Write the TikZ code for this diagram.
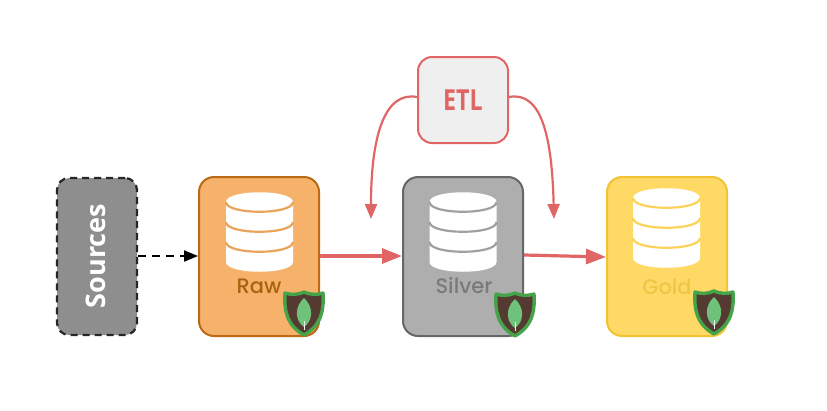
\documentclass[tikz,border=0pt]{standalone}
\usepackage{fontspec}
\setmainfont{Poppins Medium}
\newfontfamily\srcfont{Open Sans}
\usetikzlibrary{arrows.meta}
\definecolor{cRaw}{HTML}{F6B26B}
\definecolor{cRawD}{HTML}{B96A12}
\definecolor{cRawT}{HTML}{A9640F}
\definecolor{cSlv}{HTML}{AEAEAE}
\definecolor{cSlvD}{HTML}{666666}
\definecolor{cSlvT}{HTML}{7A7A7A}
\definecolor{cGld}{HTML}{FFD966}
\definecolor{cGldD}{HTML}{F1C232}
\definecolor{cGldT}{HTML}{EFC545}
\definecolor{cSrc}{HTML}{8E8E8E}
\definecolor{cRed}{HTML}{E06666}
\definecolor{cEtl}{HTML}{EFEFEF}
\definecolor{cShd}{HTML}{543A30}
\definecolor{cShdB}{HTML}{45A349}
\definecolor{cLeaf}{HTML}{6FC27A}

\begin{document}
\begin{tikzpicture}[
  x=1pt,y=-1pt,
  lyr/.style={rounded corners=15pt,line width=2pt,minimum width=120pt,minimum height=159pt,inner sep=0pt},
  srcbox/.style={draw=black!85,fill=cSrc,dash pattern=on 7pt off 5pt,rounded corners=12pt,line width=2.2pt,
                 minimum width=80pt,minimum height=157pt,inner sep=0pt},
  etlbox/.style={draw=cRed,fill=cEtl,rounded corners=14pt,line width=2pt,minimum width=90pt,minimum height=86pt,
                 inner sep=0pt,font=\srcfont\fontsize{29}{29}\selectfont\bfseries,text=cRed},
  lbl/.style={font=\fontsize{21}{21}\selectfont,inner sep=0pt},
  ar/.style={-{Triangle[length=20pt,width=15pt]},draw=cRed,line width=3.2pt},
  arc/.style={-{Triangle[length=15pt,width=12pt]},draw=cRed,line width=2.2pt},
  ard/.style={-{Triangle[length=14pt,width=11pt]},draw=black,line width=2pt,dash pattern=on 8pt off 6pt},
  pics/dbicon/.style={code={
    \fill[white] (-33.5,-30) arc[x radius=33.5,y radius=10,start angle=180,end angle=0]
      -- (33.5,30) .. controls (33.5,43) and (-33.5,43) .. (-33.5,30) -- cycle;
    \fill[white] (-33.5,-30) .. controls (-33.5,-43) and (33.5,-43) .. (33.5,-30)
      .. controls (33.5,-17) and (-33.5,-17) .. (-33.5,-30) -- cycle;
    \foreach \yy in {-30,-10,10}
      \draw[#1,line width=2.2pt] (-33.5,\yy) .. controls (-33.5,\yy+13) and (33.5,\yy+13) .. (33.5,\yy);
  }},
  pics/shield/.style={code={
    \draw[cShdB,fill=cShd,line width=3.4pt,line join=round]
      (0,-21) .. controls (7,-18) and (13,-18) .. (19,-20)
      .. controls (20,-4) and (18,12) .. (0,22)
      .. controls (-18,12) and (-20,-4) .. (-19,-20)
      .. controls (-13,-18) and (-7,-18) .. (0,-21) -- cycle;
    \fill[cLeaf] (0,-15) .. controls (10,-6) and (9,8) .. (0,14) .. controls (-9,8) and (-10,-6) .. (0,-15) -- cycle;
    \draw[white!85!cLeaf,line width=0.8pt] (0,8) -- (0,17);
  }}
]
\useasboundingbox (0,0) rectangle (827,410);
% ---- nodes
\node[srcbox] (src) at (97,256.5) {};
\node[font=\srcfont\fontsize{27}{27}\selectfont\bfseries,text=white,rotate=90,inner sep=0pt] (srclbl) at (96,256) {Sources};
\node[lyr,draw=cRawD,fill=cRaw] (raw) at (259,256.5) {};
\node[lyr,draw=cSlvD,fill=cSlv] (silver) at (463,256.5) {};
\node[lyr,draw=cGldD,fill=cGld] (gold) at (667,256.5) {};
\node[etlbox] (etl) at (463,100) {\scalebox{.8}[1]{ETL}};

% ---- icons
\pic at (259.5,232) {dbicon=cRaw!80!cRawD};
\pic at (463,232) {dbicon=cSlv!80!cSlvD};
\pic at (666.5,228) {dbicon=cGld!75!cGldD};
\node[lbl,text=cRawT] (rawlbl) at (259,286) {Raw};
\node[lbl,text=cSlvT] (silverlbl) at (464,286) {Silver};
\node[lbl,text=cGldT] (goldlbl) at (667,287) {Gold};
\pic at (304,313) {shield};
\pic at (515,314) {shield};
\pic at (714,312) {shield};

% ---- setas
\coordinate (etlL) at (371,219);
\coordinate (etlR) at (554,219);
\draw[ard] (src.east |- 0,256) -- (raw.west |- 0,256);
\draw[ar] (raw.east |- 0,256) -- (silver.west |- 0,256);
\draw[ar] (silver.east |- 0,255) -- (gold.west |- 0,257);
\draw[arc] (etl.west |- 0,97) .. controls (385,91) and (371,135) .. (etlL);
\draw[arc] (etl.east |- 0,97) .. controls (541,91) and (552,135) .. (etlR);
\end{tikzpicture}
\end{document}
